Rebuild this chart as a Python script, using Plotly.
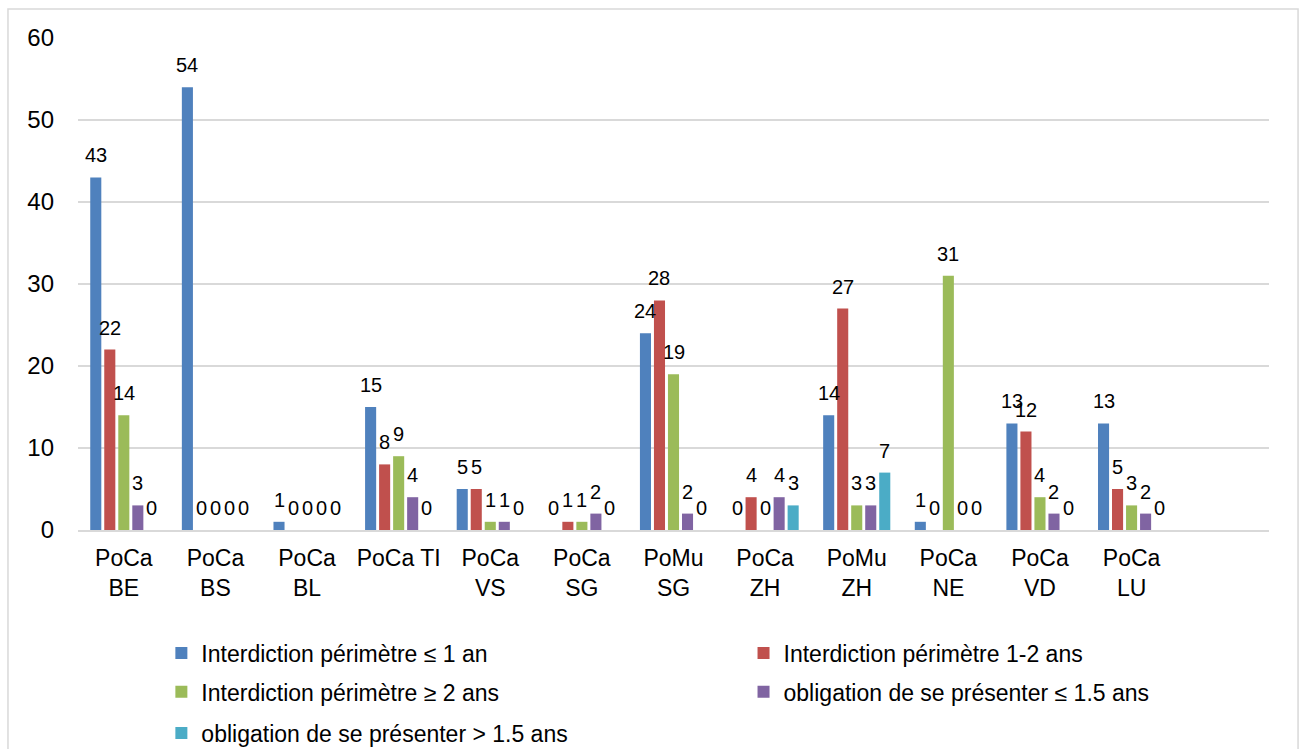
import plotly.graph_objects as go

# Category labels (13th slot left empty, as in the source workbook)
categories = ["PoCa<br>BE", "PoCa<br>BS", "PoCa<br>BL", "PoCa TI", "PoCa<br>VS", "PoCa<br>SG",
              "PoMu<br>SG", "PoCa<br>ZH", "PoMu<br>ZH", "PoCa<br>NE", "PoCa<br>VD", "PoCa<br>LU", ""]

series_names = [
    "Interdiction périmètre ≤ 1 an",
    "Interdiction périmètre 1-2 ans",
    "Interdiction périmètre ≥ 2 ans",
    "obligation de se présenter ≤ 1.5 ans",
    "obligation de se présenter > 1.5 ans",
]

perimetre_1an = [43, 54, 1, 15, 5, 0, 24, 0, 14, 1, 13, 13, None]
perimetre_1_2ans = [22, 0, 0, 8, 5, 1, 28, 4, 27, 0, 12, 5, None]
perimetre_2ans = [14, 0, 0, 9, 1, 1, 19, 0, 3, 31, 4, 3, None]
presenter_15 = [3, 0, 0, 4, 1, 2, 2, 4, 3, 0, 2, 2, None]
presenter_plus15 = [0, 0, 0, 0, 0, 0, 0, 3, 7, 0, 0, 0, None]

series_values = [perimetre_1an, perimetre_1_2ans, perimetre_2ans, presenter_15, presenter_plus15]
colors = ["#4F81BD", "#C0504D", "#9BBB59", "#8064A2", "#4BACC6"]

FONT = "Liberation Sans, Arial, sans-serif"

# Legend grid: two columns, three rows below the plot (paper coordinates)
legend_cols = [0.07, 0.5588, 0.07, 0.5588, 0.07]
legend_rows = [-0.25, -0.25, -0.329, -0.329, -0.4126]
legend_ids = ["legend", "legend2", "legend3", "legend4", "legend5"]

# Grouped layout computed by hand so labels can sit over each bar
n = len(series_values)
group_width = 0.765
slot = group_width / n
bar_width = slot * 0.79

fig = go.Figure()
annotations = []
xs = list(range(len(categories)))
for k, (name, vals, col, lg) in enumerate(zip(series_names, series_values, colors, legend_ids)):
    offset = -group_width / 2 + k * slot + (slot - bar_width) / 2
    fig.add_trace(go.Bar(
        x=xs, y=vals, name=name, marker=dict(color=col, line=dict(width=0)),
        offset=offset, width=bar_width, legend=lg, showlegend=True,
    ))
    for i, v in zip(xs, vals):
        if v is None:
            continue
        annotations.append(dict(
            x=i + offset + bar_width / 2, y=v, xref="x", yref="y",
            text=str(v), showarrow=False, yanchor="bottom", yshift=9,
            font=dict(family=FONT, size=20, color="#000000"),
        ))

legends = {}
for lg, lx, ly in zip(legend_ids, legend_cols, legend_rows):
    legends[lg] = dict(
        orientation="h", x=lx, y=ly, xanchor="left", yanchor="middle", itemwidth=30,
        font=dict(family=FONT, size=23, color="#000000"), bgcolor="rgba(0,0,0,0)",
    )

fig.update_layout(
    width=1304, height=749,
    margin=dict(l=78, r=35, t=38, b=219, autoexpand=False),
    paper_bgcolor="white", plot_bgcolor="white",
    barmode="overlay",
    showlegend=True,
    font=dict(family=FONT, size=22, color="#000000"),
    annotations=annotations,
    xaxis=dict(
        range=[-0.5, len(categories) - 0.5],
        tickmode="array", tickvals=xs, ticktext=categories,
        showgrid=False, zeroline=False, showline=True,
        linecolor="#d9d9d9", linewidth=2, ticks="",
        ticklabelstandoff=6,
        tickfont=dict(family=FONT, size=23, color="#000000"),
    ),
    yaxis=dict(
        range=[0, 60], dtick=10, showgrid=True, gridcolor="#d9d9d9", gridwidth=1.5,
        zeroline=False, showline=False, ticks="", ticklabelstandoff=23,
        tickfont=dict(family=FONT, size=24, color="#000000"),
    ),
    shapes=[dict(type="rect", xref="paper", yref="paper",
                 x0=-0.0588, x1=1.0244, y0=-0.5, y1=1.059,
                 line=dict(color="#d9d9d9", width=1.5), fillcolor="rgba(0,0,0,0)", layer="below")],
    **legends,
)

fig.write_html("out.html")
